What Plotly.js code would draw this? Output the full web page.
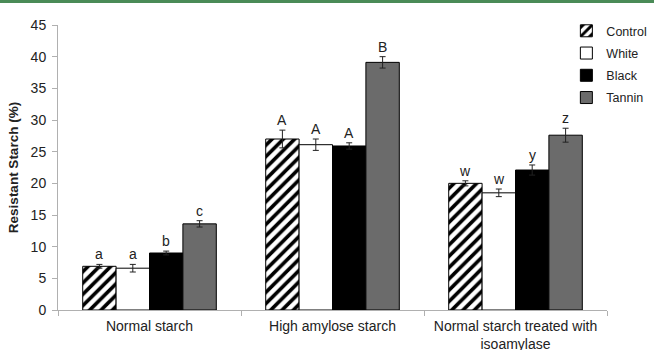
<!DOCTYPE html>
<html><head><meta charset="utf-8">
<script src="https://cdn.plot.ly/plotly-3.0.1.min.js"></script>
<style>body{margin:0;padding:0;background:#fff}#chart{width:654px;height:350px}</style>
</head><body><div id="chart"></div>
<script>
const categories = ["Normal starch", "High amylose starch", "Normal starch treated with<br>isoamylase"];
const seriesNames = ["Control", "White", "Black", "Tannin"];
const controlVals = [6.9, 27.0, 20.0];
const whiteVals   = [6.6, 26.1, 18.5];
const blackVals   = [9.0, 25.9, 22.1];
const tanninVals  = [13.6, 39.1, 27.6];
const controlErr = [0.3, 1.4, 0.4];
const whiteErr   = [0.6, 0.9, 0.6];
const blackErr   = [0.3, 0.5, 0.8];
const tanninErr  = [0.5, 0.9, 1.1];
const controlLetters = ["a", "A", "w"];
const whiteLetters   = ["a", "A", "w"];
const blackLetters   = ["b", "A", "y"];
const tanninLetters  = ["c", "B", "z"];

const vals = [controlVals, whiteVals, blackVals, tanninVals];
const errs = [controlErr, whiteErr, blackErr, tanninErr];
const letters = [controlLetters, whiteLetters, blackLetters, tanninLetters];
const fills = ["#ffffff", "#ffffff", "#000000", "#6b6b6b"];
const font = "Liberation Sans, Arial, sans-serif";
const bargap = 0.27;

const traces = seriesNames.map((n, j) => {
  const t = {
    type: "bar", name: n, x: categories, y: vals[j],
    legendgroup: n,
    marker: {color: fills[j], line: {color: "#000", width: 1}},
    error_y: {type: "data", array: errs[j], visible: true, color: "#222", thickness: 1, width: 3}
  };
  if (j === 0) t.marker.pattern = {shape: "/", fgcolor: "#000000", fgopacity: 1, bgcolor: "#ffffff", size: 8, solidity: 0.45, fillmode: "replace"};
  return t;
});

const annotations = [];
letters.forEach((arr, j) => {
  arr.forEach((L, i) => {
    const off = (-0.5 + (j + 0.5) / 4) * (1 - bargap);
    annotations.push({
      x: i + off, y: vals[j][i] + errs[j][i], xref: "x", yref: "y",
      text: L, showarrow: false, yanchor: "bottom", yshift: 0,
      font: {family: font, size: 14, color: "#222"}
    });
  });
});

const layout = {
  width: 654, height: 350,
  margin: {l: 58, r: 47, t: 25, b: 40, autoexpand: false},
  paper_bgcolor: "#fff", plot_bgcolor: "#fff",
  barmode: "group", bargap: bargap, bargroupgap: 0,
  font: {family: font, color: "#222"},
  xaxis: {
    type: "category", showline: true, linecolor: "#b0b0b0", linewidth: 1,
    ticks: "outside", tickson: "boundaries", ticklen: 5, tickcolor: "#b0b0b0",
    ticklabelstandoff: 3, tickangle: 0, automargin: false,
    tickfont: {family: font, size: 14, color: "#222"}, showgrid: false, zeroline: false
  },
  yaxis: {
    range: [0, 45], dtick: 5, showline: true, linecolor: "#b0b0b0", linewidth: 1,
    ticks: "outside", ticklen: 5, tickcolor: "#b0b0b0", showgrid: false, zeroline: false,
    ticklabelstandoff: 3, automargin: false,
    tickfont: {family: font, size: 14, color: "#222"},
    title: {text: "<b>Resistant Starch (%)</b>", font: {family: font, size: 13.5, color: "#222"}, standoff: 8}
  },
  legend: {
    x: 0.926, y: 1.031, xanchor: "left", yanchor: "top",
    font: {family: font, size: 12.5, color: "#222"},
    itemwidth: 30, tracegroupgap: 3, bgcolor: "rgba(0,0,0,0)"
  },
  annotations: annotations,
  shapes: [{
    type: "line", xref: "paper", yref: "paper",
    x0: -0.11, x1: 1.1, y0: 1.0825, y1: 1.0825,
    line: {color: "#4a8b57", width: 3}
  }]
};

Plotly.newPlot("chart", traces, layout, {displayModeBar: false, staticPlot: true});
</script>
</body></html>
